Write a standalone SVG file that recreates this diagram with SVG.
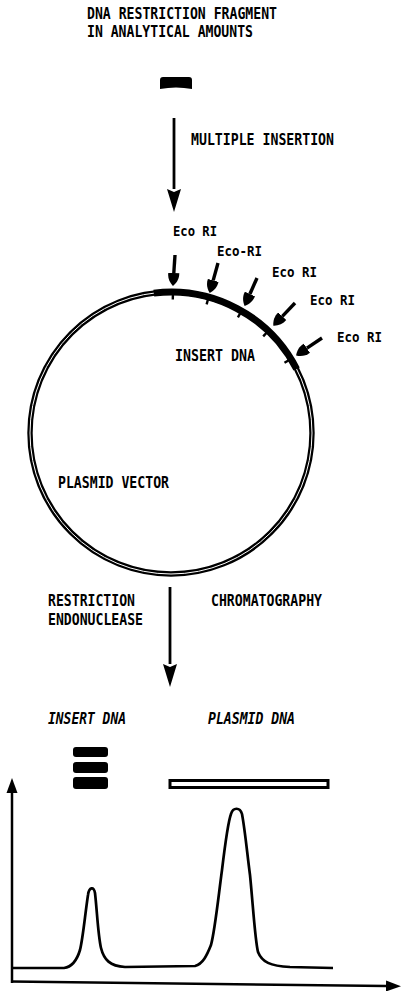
<svg xmlns="http://www.w3.org/2000/svg" width="401" height="991" viewBox="0 0 401 991">
<style>
text{font-family:"DejaVu Sans Mono","Liberation Mono",monospace;font-weight:bold;font-size:15px;fill:#000}
.eco{font-size:14px}
.it{font-style:italic}
.ln{stroke:#000;fill:none;stroke-linecap:butt}
.big{stroke-width:2.8}
.sm{stroke-width:3.4}
.ax{stroke-width:2.5}
.blk{fill:#000}
</style>
<defs>
<marker id="hb" markerUnits="userSpaceOnUse" viewBox="0 -8 24 16" markerWidth="24" markerHeight="16" refX="0" refY="0" orient="auto">
<path d="M0,-7 L23,0 L0,7 L3,0 Z" fill="#000"/>
</marker>
<marker id="hs" markerUnits="userSpaceOnUse" viewBox="0 -7 14 14" markerWidth="14" markerHeight="14" refX="0" refY="0" orient="auto">
<path d="M0,-5.5 C5,-6 10,-3.5 13,0 C10,3.5 5,6 0,5.5 Z" fill="#000"/>
</marker>
<marker id="ha" markerUnits="userSpaceOnUse" viewBox="0 -6 16 12" markerWidth="16" markerHeight="12" refX="0" refY="0" orient="auto">
<path d="M0,-5.5 L15,0 L0,5.5 Z" fill="#000"/>
</marker>
</defs>

<g id="title">
<text x="87" y="19" textLength="190" lengthAdjust="spacingAndGlyphs">DNA RESTRICTION FRAGMENT</text>
<text x="87" y="37" textLength="166" lengthAdjust="spacingAndGlyphs">IN ANALYTICAL AMOUNTS</text>
</g>

<g id="fragment">
<path class="blk" d="M160,89 L160,80 Q160,77 163,77 L189,77 Q192,77 192,80 L192,89 Q176,86 160,89 Z"/>
</g>

<g id="plasmid">
<circle cx="171" cy="433" r="141" fill="none" stroke="#000" stroke-width="5.4"/>
<circle cx="171" cy="433" r="141" fill="none" stroke="#fff" stroke-width="1"/>
<path id="insert-arc" d="M153.8,293.1 A141,141 0 0 1 296.6,369.0" fill="none" stroke="#000" stroke-width="7"/>
<g stroke="#000" stroke-width="2.4">
<line x1="172.9" y1="294" x2="172.8" y2="299.5"/>
<line x1="208.1" y1="299" x2="206.6" y2="304.4"/>
<line x1="240.6" y1="312.7" x2="237.9" y2="317.4"/>
<line x1="266.9" y1="332.4" x2="263.2" y2="336.3"/>
<line x1="289.2" y1="359.9" x2="284.5" y2="362.8"/>
</g>
<text x="175" y="361" textLength="80" lengthAdjust="spacingAndGlyphs">INSERT DNA</text>
<text x="58" y="488" textLength="111" lengthAdjust="spacingAndGlyphs">PLASMID VECTOR</text>
</g>

<g id="eco-labels">
<text class="eco" x="173" y="236" textLength="44" lengthAdjust="spacingAndGlyphs">Eco RI</text>
<text class="eco" x="217" y="256" textLength="45" lengthAdjust="spacingAndGlyphs">Eco-RI</text>
<text class="eco" x="272" y="277" textLength="45" lengthAdjust="spacingAndGlyphs">Eco RI</text>
<text class="eco" x="310" y="305" textLength="45" lengthAdjust="spacingAndGlyphs">Eco RI</text>
<text class="eco" x="337" y="342" textLength="45" lengthAdjust="spacingAndGlyphs">Eco RI</text>
</g>

<g id="step-labels">
<text x="191" y="145" textLength="143" lengthAdjust="spacingAndGlyphs">MULTIPLE INSERTION</text>
<text x="48" y="606" textLength="87" lengthAdjust="spacingAndGlyphs">RESTRICTION</text>
<text x="48" y="625" textLength="95" lengthAdjust="spacingAndGlyphs">ENDONUCLEASE</text>
<text x="211" y="606" textLength="111" lengthAdjust="spacingAndGlyphs">CHROMATOGRAPHY</text>
</g>

<g id="insert-dna-fraction">
<text class="it" x="48" y="724" textLength="78" lengthAdjust="spacingAndGlyphs">INSERT DNA</text>
<rect class="blk" x="73" y="747" width="35" height="10" rx="3"/>
<rect class="blk" x="73" y="762" width="35" height="11" rx="3"/>
<rect class="blk" x="73" y="777" width="35" height="12" rx="3"/>
</g>

<g id="plasmid-dna-fraction">
<text class="it" x="208" y="724" textLength="87" lengthAdjust="spacingAndGlyphs">PLASMID DNA</text>
<rect x="170" y="780.5" width="158" height="7" fill="#fff" stroke="#000" stroke-width="3"/>
</g>

<g id="chromatogram">
<path class="ln" stroke-width="2.7" stroke-linejoin="round" d="M13,968 L64,968 C72,967 77,960 80,950 C83,938 85,915 88,895 C89,887 94,886 95,893 C97,910 98,935 101,948 C104,960 110,966 125,967 L195,966 C203,964 207,955 211,945 C215,930 218,900 222,870 C225,845 228,822 231,814 C233,807 240,807 242,814 C245,830 247,852 250,875 C253,905 255,940 258,952 C262,962 270,966 290,967 L333,968"/>
</g>

<g id="connectors">
<line class="ln big" x1="174" y1="118" x2="174" y2="189" marker-end="url(#hb)"/>
<line class="ln big" x1="170" y1="587" x2="170" y2="664" marker-end="url(#hb)"/>
<line class="ln sm" x1="175" y1="255" x2="173.8" y2="273" marker-end="url(#hs)"/>
<line class="ln sm" x1="218" y1="263" x2="213.2" y2="280.4" marker-end="url(#hs)"/>
<line class="ln sm" x1="257" y1="278" x2="249.9" y2="294" marker-end="url(#hs)"/>
<line class="ln sm" x1="295" y1="303" x2="282.3" y2="316.3" marker-end="url(#hs)"/>
<line class="ln sm" x1="322" y1="338" x2="306.9" y2="348.2" marker-end="url(#hs)"/>
<line class="ln ax" x1="12" y1="983" x2="12" y2="793" marker-end="url(#ha)"/>
<line class="ln ax" x1="11" y1="981.5" x2="386" y2="986" marker-end="url(#ha)"/>
</g>
</svg>
